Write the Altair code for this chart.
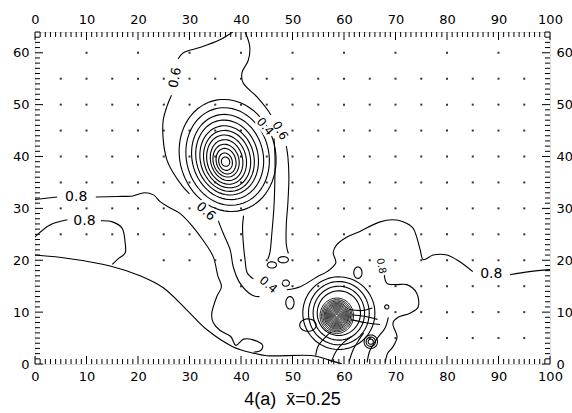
import altair as alt
import numpy as np
import pandas as pd

W, H = 515, 332
XMAX, YMAX = 100, 64

# ---------------- axis labels ----------------
x_tick_labels = [0, 10, 20, 30, 40, 50, 60, 70, 80, 90, 100]
y_tick_labels = [0, 10, 20, 30, 40, 50, 60]

# ---------------- grid dots (rows of data points) ----------------
dot_row_y = [60, 55, 50, 45, 40, 35, 30, 25, 20, 15, 10, 5]
dot_row_x0 = [10, 5, 5, 5, 5, 5, 5, 5, 25, 40, 70, 65]
dot_row_dx = [10, 5, 5, 5, 5, 5, 5, 5, 5, 5, 5, 5]

# ---------------- traced contour lines ----------------
bnd_x = [0, 6.8, 14.6, 20.4, 24.9, 29.5, 33.4, 38.5, 42.4, 45.0, 54.0, 57.0, 59.6]
bnd_y = [21.0, 20.3, 18.9, 17.0, 14.7, 10.4, 6.6, 3.3, 2.1, 1.6, 1.6, 0.8, 0.0]

c1a_x = [0, 4.3]
c1a_y = [31.7, 32.2]
c1b_x = [11.8, 16.0, 19.0, 21.2, 23.0, 24.3, 26.0, 28.2, 30.7, 32.6, 34.6, 35.5, 36.2,
         35.3, 34.3, 34.6, 35.9, 38.0, 39.0, 40.5, 42.5, 44.2, 43.8, 42.5]
c1b_y = [32.2, 32.3, 32.4, 33.0, 32.6, 31.3, 30.2, 29.0, 26.4, 23.9, 20.7, 17.0, 14.9,
         13.0, 9.5, 8.0, 6.5, 5.3, 3.6, 4.8, 4.6, 3.6, 2.6, 2.3]

c2a_x = [0, 2.9, 6.3]
c2a_y = [24.5, 26.8, 27.8]
c2b_x = [12.8, 15.0, 16.9, 17.5, 17.5, 16.3, 15.0]
c2b_y = [27.6, 27.4, 26.2, 23.4, 21.4, 20.4, 19.2]

c3a_x = [38.4, 35.9, 32.0, 28.8, 27.8]
c3a_y = [64.0, 62.5, 61.0, 60.0, 58.8]
c3b_x = [26.5, 25.6, 24.9, 24.9, 25.6, 26.8, 28.7, 30.0]
c3b_y = [51.8, 49.6, 47.0, 43.2, 39.4, 36.9, 34.2, 32.8]
c3c_x = [35.6, 36.5, 37.9, 38.5, 39.8, 42.3, 43.6]
c3c_y = [27.6, 25.3, 22.0, 18.7, 15.6, 13.2, 13.0]

d2_x = [40.5, 40.3, 40.4, 40.8, 41.2, 42.4]
d2_y = [28.6, 26.5, 23.9, 20.0, 17.6, 16.4]

r1_x = [46.4, 46.6, 46.6, 46.4, 46.0, 45.6, 45.2]
r1_y = [43.5, 40.0, 36.9, 30.3, 25.3, 21.4, 20.2]
r2_x = [48.8, 49.1, 49.3, 49.1, 48.8, 48.8, 49.2]
r2_y = [42.0, 40.0, 36.0, 31.0, 27.0, 23.0, 21.3]
tr_x = [40.8, 41.7, 41.4, 40.2, 40.4, 43.1, 45.0, 45.8]
tr_y = [64.0, 61.2, 58.5, 56.2, 54.2, 51.5, 49.2, 48.0]

big_a_x = [100, 96.0, 92.2]
big_a_y = [18.2, 17.8, 17.2]
big_b_x = [85.0, 82.5, 80.0, 77.3, 75.4, 74.8, 74.1, 73.4, 71.5, 69.5, 67.0, 62.5,
           60.6, 58.6, 57.9, 58.4, 56.7, 54.8, 51.5, 48.9]
big_b_y = [17.8, 19.7, 21.0, 21.0, 20.1, 22.0, 24.5, 26.2, 27.4, 27.8, 27.4, 25.3,
           24.5, 23.0, 21.5, 19.5, 17.8, 16.8, 14.9, 14.3]

lobe_x = [67.8, 68.3, 70.0, 72.2, 74.1, 74.4, 72.8, 70.5, 69.5, 70.3, 69.5, 68.5, 68.0]
lobe_y = [17.6, 15.6, 15.3, 15.3, 13.7, 11.0, 9.8, 9.0, 7.9, 5.2, 3.3, 2.1, 0.3]

f1_x = [54.5, 55.0, 56.5, 57.5]
f1_y = [1.6, 3.5, 5.3, 6.2]
f2_x = [57.5, 58.5, 60.0, 61.5]
f2_y = [0.3, 2.5, 4.2, 5.3]
f3_x = [61.0, 61.8, 63.0, 63.8]
f3_y = [0.5, 2.8, 4.8, 6.0]
f4_x = [64.5, 65.0, 66.5, 68.0, 68.6]
f4_y = [0.3, 2.5, 5.0, 7.0, 9.0]
t1_x = [61.5, 64.0, 66.5]
t1_y = [9.5, 9.2, 8.6]
t2_x = [61.5, 64.0, 67.0]
t2_y = [8.5, 8.0, 7.6]
t3_x = [61.0, 63.5, 65.5]
t3_y = [10.5, 10.3, 10.8]

# ---------------- closed rings: centre, semi-axes, tilt ----------------
vortex_cx = [37.0, 37.0, 37.1, 37.1, 37.2, 37.2, 37.3, 37.3, 37.3, 37.4, 37.4, 37.4]
vortex_cy = [39.0, 39.0, 39.1, 39.2, 39.3, 39.4, 39.5, 39.6, 39.8, 39.9, 40.0, 40.2]
vortex_a = [0.8, 1.3, 1.9, 2.5, 3.1, 3.8, 4.5, 5.2, 6.0, 6.9, 8.0, 9.3]
vortex_b = [0.9, 1.7, 2.5, 3.2, 4.0, 4.8, 5.6, 6.4, 7.3, 8.3, 9.5, 10.9]
vortex_tilt = 15

blob_r = [0.25, 0.45, 0.65, 0.85, 1.05, 1.25, 1.45, 1.65, 1.85, 2.05, 2.25, 2.45, 2.7, 2.95, 3.25]
blob_cx, blob_cy = 58.6, 9.3
clus_a = [4.2, 5.0, 5.9, 7.0]
clus_b = [4.3, 5.2, 6.1, 7.0]
clus_cx, clus_cy = 59.0, 9.8
target_r = [0.5, 0.9, 1.3]
target_cx, target_cy = 65.2, 4.3

oval_x = [46.0, 48.2, 48.7, 49.5, 53.0, 62.7, 68.3]
oval_y = [19.1, 20.1, 15.6, 11.8, 7.5, 17.6, 11.0]
oval_a = [0.9, 1.0, 0.7, 0.8, 1.6, 0.8, 0.4]
oval_b = [0.6, 0.6, 0.6, 1.2, 1.2, 1.1, 0.4]

# ---------------- contour labels ----------------
lab_text = ["0.8", "0.8", "0.6", "0.6", "0.4", "0.6", "0.4", "0.8", "0.8"]
lab_x = [8.0, 9.6, 27.2, 33.2, 44.7, 47.6, 45.3, 88.6, 67.2]
lab_y = [32.2, 27.6, 55.2, 29.4, 45.8, 45.0, 15.3, 17.4, 18.9]
lab_ang = [0, 0, 280, 42, 50, 60, 40, 0, 80]
lab_size = [14, 14, 13, 13, 12, 12, 12, 14, 10]

# ---------------- build tables ----------------
traced_rows = []


def add_line(rows, name, xs, ys):
    for i, (xv, yv) in enumerate(zip(xs, ys)):
        rows.append({"id": name, "ord": i, "x": xv, "y": yv})


for name, xs_, ys_ in [
    ("bnd", bnd_x, bnd_y), ("c1a", c1a_x, c1a_y), ("c1b", c1b_x, c1b_y),
    ("c2a", c2a_x, c2a_y), ("c2b", c2b_x, c2b_y), ("c3a", c3a_x, c3a_y),
    ("c3b", c3b_x, c3b_y), ("c3c", c3c_x, c3c_y), ("d2", d2_x, d2_y),
    ("r1", r1_x, r1_y), ("r2", r2_x, r2_y), ("tr", tr_x, tr_y),
    ("biga", big_a_x, big_a_y), ("bigb", big_b_x, big_b_y), ("lobe", lobe_x, lobe_y),
    ("f1", f1_x, f1_y), ("f2", f2_x, f2_y), ("f3", f3_x, f3_y), ("f4", f4_x, f4_y),
    ("t1", t1_x, t1_y), ("t2", t2_x, t2_y), ("t3", t3_x, t3_y),
]:
    add_line(traced_rows, name, xs_, ys_)
df_traced = pd.DataFrame(traced_rows)


def ring(cx, cy, a, b, tilt_deg=0.0, n=72):
    t = np.linspace(0, 2 * np.pi, n)
    th = np.radians(tilt_deg)
    lx, ly = a * np.cos(t), b * np.sin(t)
    return cx + lx * np.cos(th) - ly * np.sin(th), cy + lx * np.sin(th) + ly * np.cos(th)


ring_rows = []
for k in range(len(vortex_a)):
    rx, ry = ring(vortex_cx[k], vortex_cy[k], vortex_a[k], vortex_b[k], vortex_tilt)
    add_line(ring_rows, f"v{k}", rx, ry)
for k in range(len(clus_a)):
    rx, ry = ring(clus_cx, clus_cy, clus_a[k], clus_b[k])
    add_line(ring_rows, f"c{k}", rx, ry)
for k, r in enumerate(target_r):
    rx, ry = ring(target_cx, target_cy, r, r)
    add_line(ring_rows, f"t{k}", rx, ry)
for k in range(len(oval_x)):
    rx, ry = ring(oval_x[k], oval_y[k], oval_a[k], oval_b[k], 0, 36)
    add_line(ring_rows, f"o{k}", rx, ry)
df_rings = pd.DataFrame(ring_rows)

blob_rows = []
for k, r in enumerate(blob_r):
    rx, ry = ring(blob_cx, blob_cy, r, r * 1.05)
    add_line(blob_rows, f"b{k}", rx, ry)
df_blob = pd.DataFrame(blob_rows)

dots = []
for yv, x0, dx in zip(dot_row_y, dot_row_x0, dot_row_dx):
    for xv in range(x0, 96, dx):
        dots.append({"x": xv, "y": yv})
df_dots = pd.DataFrame(dots)

df_labels = pd.DataFrame({"t": lab_text, "x": lab_x, "y": lab_y, "ang": lab_ang, "s": lab_size})

x_minor = pd.DataFrame({"v": [v for v in range(0, XMAX + 1) if v % 10]})
x_major = pd.DataFrame({"v": [v for v in range(0, XMAX + 1, 10)]})
y_minor = pd.DataFrame({"v": [v for v in range(0, YMAX + 1) if v % 10]})
y_major = pd.DataFrame({"v": [v for v in range(0, YMAX + 1, 10)]})

# ---------------- chart ----------------
xs = alt.Scale(domain=[0, XMAX], nice=False, zero=False)
ys = alt.Scale(domain=[0, YMAX], nice=False, zero=False)

lab_font = "DejaVu Sans"


def axis(orient, values):
    return alt.Axis(orient=orient, values=values, ticks=False, domain=False, grid=False,
                    labelFlush=False, labelOverlap=False, labelPadding=6, title=None,
                    labelFont=lab_font, labelFontSize=13, labelColor="black", format="d")


traced = alt.Chart(df_traced).mark_line(
    interpolate="catmull-rom", color="black", strokeWidth=1.1, clip=True
).encode(
    x=alt.X("x:Q", scale=xs, axis=axis("bottom", x_tick_labels)),
    y=alt.Y("y:Q", scale=ys, axis=axis("left", y_tick_labels)),
    detail="id:N",
    order="ord:Q",
)

rings = alt.Chart(df_rings).mark_line(color="black", strokeWidth=1.1, clip=True).encode(
    x=alt.X("x:Q", scale=xs, axis=None),
    y=alt.Y("y:Q", scale=ys, axis=None),
    detail="id:N",
    order="ord:Q",
)

blob = alt.Chart(df_blob).mark_line(color="black", strokeWidth=0.9, clip=True).encode(
    x=alt.X("x:Q", scale=xs, axis=None),
    y=alt.Y("y:Q", scale=ys, axis=None),
    detail="id:N",
    order="ord:Q",
)

dot_layer = alt.Chart(df_dots).mark_square(size=4, color="#333333", opacity=1).encode(
    x=alt.X("x:Q", scale=xs, axis=axis("top", x_tick_labels)),
    y=alt.Y("y:Q", scale=ys, axis=axis("right", y_tick_labels)),
)

halo = alt.Chart(df_labels).mark_text(
    font=lab_font, color="white", stroke="white", strokeWidth=5, baseline="middle", align="center"
).encode(
    x=alt.X("x:Q", scale=xs, axis=None),
    y=alt.Y("y:Q", scale=ys, axis=None),
    text="t:N",
    angle=alt.Angle("ang:Q", scale=None),
    size=alt.Size("s:Q", scale=None),
)
labels = alt.Chart(df_labels).mark_text(
    font=lab_font, color="black", baseline="middle", align="center"
).encode(
    x=alt.X("x:Q", scale=xs, axis=None),
    y=alt.Y("y:Q", scale=ys, axis=None),
    text="t:N",
    angle=alt.Angle("ang:Q", scale=None),
    size=alt.Size("s:Q", scale=None),
)


def xticks(df, length, top):
    return alt.Chart(df).mark_rule(color="black", strokeWidth=1).encode(
        x=alt.X("v:Q", scale=xs, axis=None),
        y=alt.value(0 if top else H),
        y2=alt.value(length if top else H - length),
    )


def yticks(df, length, right):
    return alt.Chart(df).mark_rule(color="black", strokeWidth=1).encode(
        y=alt.Y("v:Q", scale=ys, axis=None),
        x=alt.value(W if right else 0),
        x2=alt.value(W - length if right else length),
    )


tick_layers = [
    xticks(x_minor, 5, False), xticks(x_major, 8, False),
    xticks(x_minor, 5, True), xticks(x_major, 8, True),
    yticks(y_minor, 5, False), yticks(y_major, 8, False),
    yticks(y_minor, 5, True), yticks(y_major, 8, True),
]

chart = alt.layer(
    traced, dot_layer, rings, blob, halo, labels, *tick_layers
).resolve_axis(
    x="independent", y="independent"
).properties(
    width=W,
    height=H,
    autosize=alt.AutoSizeParams(type="none"),
    padding={"left": 35, "top": 32, "right": 22, "bottom": 49},
    title=alt.TitleParams(
        text="4(a)\u00a0\u00a0x\u0304=0.25", orient="bottom", anchor="middle",
        font="Liberation Sans", fontSize=18, fontWeight="normal", color="black", offset=8,
    ),
).configure_view(
    stroke="black", strokeWidth=1.3
).configure(background="white")

chart.save("out.html", embed_options={"renderer": "svg", "actions": False})
